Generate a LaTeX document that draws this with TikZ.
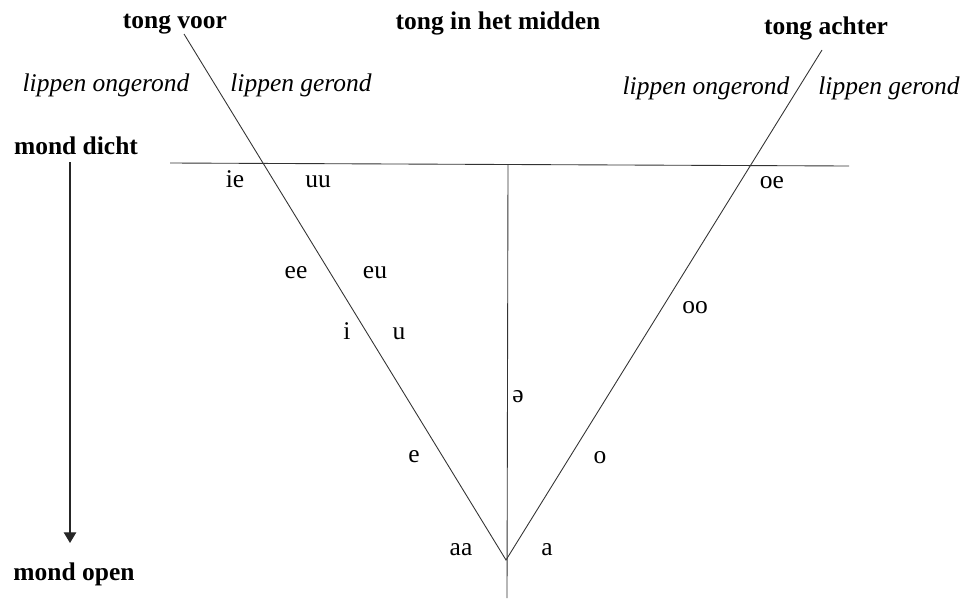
\documentclass[tikz,border=0pt]{standalone}
\usepackage{fontspec}
\setmainfont{Liberation Serif}
\usetikzlibrary{arrows.meta}

\begin{document}
\begin{tikzpicture}[
    x=0.02cm, y=-0.02cm,
    kop/.style={font=\fontsize{14.5}{16}\selectfont\bfseries, inner sep=0pt, anchor=base},
    lip/.style={font=\fontsize{14.5}{16}\selectfont\itshape, inner sep=0pt, anchor=base},
    klank/.style={font=\fontsize{14.5}{16}\selectfont, inner sep=0pt, anchor=base},
    lijn/.style={line width=0.5pt, black!80},
    pijl/.style={-{Triangle[width=7pt,length=6pt]}, line width=0.6pt, black!85},
]
\useasboundingbox (0,0) rectangle (962,599);

% ===== KOPPEN =====
\node[kop] (voor) at (175,28) {tong voor};
\node[kop] (midden) at (498,29) {tong in het midden};
\node[kop] (achter) at (826,34) {tong achter};

\node[lip] (ongerondL) at (106,91) {lippen ongerond};
\node[lip] (gerondL) at (301,91) {lippen gerond};
\node[lip] (ongerondR) at (706,94) {lippen ongerond};
\node[lip] (gerondR) at (889,94) {lippen gerond};

\node[kop] (dicht) at (76,154) {mond dicht};
\node[kop] (open) at (74,580) {mond open};

% ===== LIJNEN =====
\coordinate (voorTop) at (184,34);
\coordinate (achterTop) at (822,50);
\coordinate (bodem) at (506,560);
\coordinate (hLinks) at (170,163);
\coordinate (hRechts) at (849,166);
\coordinate (mBoven) at (508,164);
\coordinate (mOnder) at (507,598);

\draw[lijn] (hLinks) -- (hRechts);
\draw[lijn] (mBoven) -- (mOnder);
\draw[lijn] (voorTop) -- (bodem) -- (achterTop);

% pijl van dicht naar open
\coordinate (pijlBoven) at (70,162);
\coordinate (pijlOnder) at (70,543);
\draw[pijl] (pijlBoven) -- (pijlOnder);

% ===== KLINKERS =====
\node[klank] (ie) at (235,187) {ie};
\node[klank] (uu) at (318,187) {uu};
\node[klank] (ee) at (296,278) {ee};
\node[klank] (eu) at (375,278) {eu};
\node[klank] (i) at (347,339) {i};
\node[klank] (u) at (399,339) {u};
\node[klank] (sjwa) at (518,402) {ə};
\node[klank] (e) at (414,462) {e};
\node[klank] (o) at (600,463) {o};
\node[klank] (aa) at (461,555) {aa};
\node[klank] (a) at (547,555) {a};
\node[klank] (oo) at (695,313) {oo};
\node[klank] (oe) at (772,188) {oe};

\end{tikzpicture}
\end{document}
